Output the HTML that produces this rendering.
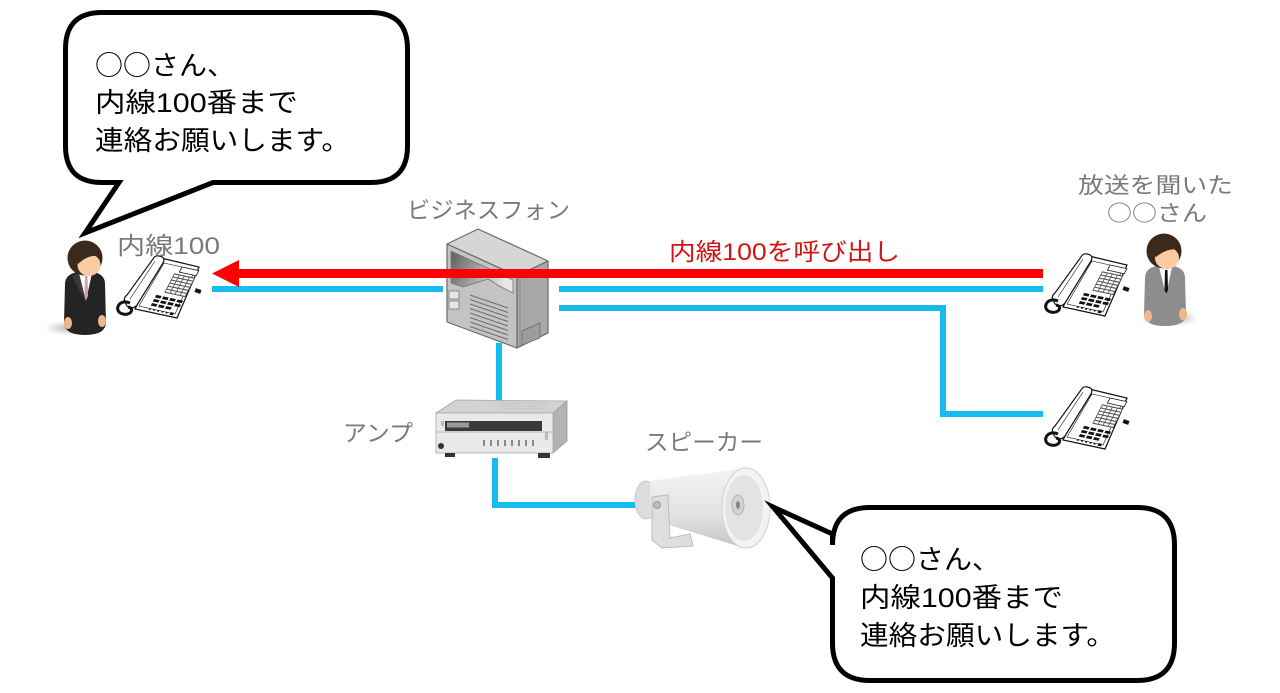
<!DOCTYPE html>
<html><head><meta charset="utf-8"><style>
html,body{margin:0;padding:0;background:#fff;}
svg{display:block;}
text{font-family:"Liberation Sans","Noto Sans CJK JP",sans-serif;}
.cjk{font-family:"Noto Sans CJK JP","Liberation Sans",sans-serif;}
</style></head><body>
<svg width="1280" height="693" viewBox="0 0 1280 693" xmlns="http://www.w3.org/2000/svg">
<defs>
  <linearGradient id="disp" x1="0" y1="0" x2="1" y2="0.3">
    <stop offset="0" stop-color="#5e5e5e"/><stop offset="1" stop-color="#e6e6e6"/>
  </linearGradient>
  <linearGradient id="cone" x1="0" y1="0" x2="0" y2="1">
    <stop offset="0" stop-color="#f4f4f4"/><stop offset="0.6" stop-color="#e2e2e2"/><stop offset="1" stop-color="#c4c4c4"/>
  </linearGradient>
  <radialGradient id="shadow" cx="0.5" cy="0.5" r="0.5">
    <stop offset="0" stop-color="#888" stop-opacity="0.6"/><stop offset="1" stop-color="#bbb" stop-opacity="0"/>
  </radialGradient>
  <g id="phone">
    <path d="M46,3 L84,12 L62,63 L20,54 Z" fill="#fff" stroke="#111" stroke-width="1.2"/>
    <path d="M49,8 L80,15 L60,59 L24,51 Z" fill="none" stroke="#111" stroke-width="0.6"/>
    <g transform="matrix(42,9,26,-51,20,54)">
      <rect x="0.3" y="0.12" width="0.13" height="0.05" fill="#111"/>
      <rect x="0.47" y="0.12" width="0.13" height="0.05" fill="#111"/>
      <rect x="0.64" y="0.12" width="0.13" height="0.05" fill="#111"/>
      <rect x="0.3" y="0.2" width="0.13" height="0.05" fill="#111"/>
      <rect x="0.47" y="0.2" width="0.13" height="0.05" fill="#111"/>
      <rect x="0.64" y="0.2" width="0.13" height="0.05" fill="#111"/>
      <rect x="0.81" y="0.2" width="0.13" height="0.05" fill="#111"/>
      <rect x="0.3" y="0.28" width="0.13" height="0.05" fill="#111"/>
      <rect x="0.47" y="0.28" width="0.13" height="0.05" fill="#111"/>
      <rect x="0.64" y="0.28" width="0.13" height="0.05" fill="#111"/>
      <rect x="0.81" y="0.28" width="0.13" height="0.05" fill="#111"/>
      <rect x="0.3" y="0.04" width="0.04" height="0.03" fill="#111"/>
      <rect x="0.4" y="0.04" width="0.04" height="0.03" fill="#111"/>
      <rect x="0.5" y="0.04" width="0.04" height="0.03" fill="#111"/>
      <rect x="0.6" y="0.04" width="0.04" height="0.03" fill="#111"/>
      <rect x="0.7" y="0.04" width="0.04" height="0.03" fill="#111"/>
      <rect x="0.8" y="0.03" width="0.08" height="0.05" fill="#111"/>
      <rect x="0.45" y="0.4" width="0.5" height="0.38" fill="#555"/>
      <g fill="#fff">
        <rect x="0.47" y="0.42" width="0.1" height="0.04"/><rect x="0.59" y="0.42" width="0.1" height="0.04"/><rect x="0.71" y="0.42" width="0.1" height="0.04"/><rect x="0.83" y="0.42" width="0.1" height="0.04"/>
        <rect x="0.47" y="0.48" width="0.1" height="0.04"/><rect x="0.59" y="0.48" width="0.1" height="0.04"/><rect x="0.71" y="0.48" width="0.1" height="0.04"/><rect x="0.83" y="0.48" width="0.1" height="0.04"/>
        <rect x="0.47" y="0.54" width="0.1" height="0.04"/><rect x="0.59" y="0.54" width="0.1" height="0.04"/><rect x="0.71" y="0.54" width="0.1" height="0.04"/><rect x="0.83" y="0.54" width="0.1" height="0.04"/>
        <rect x="0.47" y="0.6" width="0.1" height="0.04"/><rect x="0.59" y="0.6" width="0.1" height="0.04"/><rect x="0.71" y="0.6" width="0.1" height="0.04"/><rect x="0.83" y="0.6" width="0.1" height="0.04"/>
        <rect x="0.47" y="0.66" width="0.1" height="0.04"/><rect x="0.59" y="0.66" width="0.1" height="0.04"/><rect x="0.71" y="0.66" width="0.1" height="0.04"/><rect x="0.83" y="0.66" width="0.1" height="0.04"/>
        <rect x="0.47" y="0.72" width="0.1" height="0.04"/><rect x="0.59" y="0.72" width="0.1" height="0.04"/><rect x="0.71" y="0.72" width="0.1" height="0.04"/><rect x="0.83" y="0.72" width="0.1" height="0.04"/>
      </g>
      <rect x="0.55" y="0.82" width="0.4" height="0.1" fill="#fff" stroke="#111" stroke-width="0.8" vector-effect="non-scaling-stroke"/>
    </g>
    <path d="M44,1 Q51,2 48,8 L22,50 Q18,55 12,51 L10,47 Q8,43 12,40 L38,4 Q40,0 44,1 Z" fill="#fff" stroke="#111" stroke-width="1.2"/>
    <path d="M40,6 L15,44" stroke="#111" stroke-width="0.6" fill="none"/>
    <path d="M15,48 C3,43 -2,57 8,59 C16,61 20,53 13,52" stroke="#111" stroke-width="3" fill="none"/>
    <rect x="80" y="34" width="6" height="4" fill="#111" transform="rotate(20 83 36)"/>
  </g>
</defs>

<!-- Server (business phone) -->
<g stroke="#6b6b6b" stroke-width="1.2" stroke-linejoin="round">
  <polygon points="447,244 478,229 548,261 517,276" fill="#d6d6d6"/>
  <polygon points="447,244 517,276 517,348 447,322" fill="#c3c3c3"/>
  <polygon points="517,276 548,261 548,333 517,348" fill="#a8a8a8"/>
</g>
<path d="M451,251 L513,280 L513,293 Q500,287 488,279 Q476,283 463,287 L451,283 Z" fill="url(#disp)" stroke="#777" stroke-width="0.8"/>
<rect x="449" y="291" width="10" height="8" fill="#e6e6e6" stroke="#777" stroke-width="0.8"/>
<rect x="449" y="301" width="10" height="8" fill="#e6e6e6" stroke="#777" stroke-width="0.8"/>
<g stroke="#6d6d6d" stroke-width="1">
  <line x1="470" y1="295" x2="508" y2="308"/>
  <line x1="470" y1="299.5" x2="508" y2="312.5"/>
  <line x1="470" y1="304" x2="508" y2="317"/>
  <line x1="470" y1="308.5" x2="508" y2="321.5"/>
  <line x1="470" y1="313" x2="508" y2="326"/>
  <line x1="470" y1="317.5" x2="508" y2="330.5"/>
  <line x1="470" y1="322" x2="508" y2="335"/>
  <line x1="470" y1="326.5" x2="508" y2="339.5"/>
</g>
<polygon points="522,331 540,323 540,338 522,345" fill="#9c9c9c" stroke="#6b6b6b" stroke-width="0.8"/>
<line x1="520" y1="278" x2="520" y2="346" stroke="#8a8a8a" stroke-width="1"/>

<!-- blue lines -->
<g fill="#15bdee">
  <rect x="212" y="286" width="231" height="6"/>
  <rect x="559" y="286" width="484" height="6"/>
  <rect x="559" y="305" width="387" height="6"/>
  <rect x="940" y="305" width="6" height="111"/>
  <rect x="940" y="411" width="103" height="6"/>
  <rect x="496" y="343" width="6" height="58"/>
  <rect x="492" y="458" width="6" height="50"/>
  <rect x="492" y="502" width="145" height="6"/>
</g>

<!-- red arrow -->
<rect x="236" y="269" width="807" height="9" fill="#ff0000"/>
<polygon points="212,273.5 239,260 239,287" fill="#ff0000"/>

<!-- Amp -->
<polygon points="436,413 456,400 567,401 553,413" fill="#d2d2d2" stroke="#a5a5a5" stroke-width="0.8"/>
<g stroke="#b8b8b8" stroke-width="0.6">
  <line x1="500" y1="403" x2="550" y2="403"/><line x1="500" y1="406" x2="548" y2="406"/><line x1="500" y1="409" x2="546" y2="409"/>
</g>
<polygon points="553,413 567,401 567,441 553,453" fill="#b3b3b3" stroke="#999" stroke-width="0.8"/>
<rect x="436" y="413" width="117" height="40" fill="#e9e9e9" stroke="#a8a8a8" stroke-width="0.8"/>
<rect x="445" y="421" width="97" height="10" fill="#3a3a3a"/>
<rect x="447" y="422.5" width="22" height="5" fill="#9a9a9a"/>
<rect x="436" y="431" width="117" height="2" fill="#cfcfcf"/>
<g fill="#888">
  <rect x="483" y="440" width="2" height="6"/><rect x="490" y="440" width="2" height="6"/><rect x="497" y="440" width="2" height="6"/><rect x="504" y="440" width="2" height="6"/><rect x="511" y="440" width="2" height="6"/><rect x="518" y="440" width="2" height="6"/><rect x="525" y="440" width="2" height="6"/><rect x="532" y="440" width="2" height="6"/>
</g>
<circle cx="441" cy="446" r="3" fill="#333"/>
<rect x="441" y="421" width="3" height="5" fill="#bbb"/>
<rect x="545" y="432" width="3" height="8" fill="#bbb"/>
<rect x="445" y="453" width="10" height="4" fill="#333"/>
<rect x="538" y="453" width="12" height="5" fill="#333"/>

<!-- Speaker -->
<ellipse cx="646" cy="500" rx="11" ry="19" fill="#dcdcdc" stroke="#c9c9c9" stroke-width="1"/>
<polygon points="650,481 744,468 744,548 650,519" fill="url(#cone)"/>
<path d="M652,497 L668,495 L670,538 L690,534 L693,546 L662,548 L652,540 Z" fill="#dedede" stroke="#bdbdbd" stroke-width="1"/>
<circle cx="657" cy="505" r="3.5" fill="#bbb" stroke="#888" stroke-width="0.8"/>
<ellipse cx="746" cy="508" rx="24" ry="40" fill="#f3f3f3" stroke="#d0d0d0" stroke-width="1"/>
<ellipse cx="744" cy="508" rx="19" ry="33" fill="#e3e3e3"/>
<ellipse cx="738" cy="505" rx="6" ry="10" fill="#d2d2d2" stroke="#aaa" stroke-width="0.8"/>
<ellipse cx="738" cy="505" rx="2" ry="4" fill="#888"/>

<!-- phones -->
<use href="#phone" transform="translate(115,255)"/>
<use href="#phone" transform="translate(1043,253)"/>
<use href="#phone" transform="translate(1043,386)"/>

<!-- left person -->
<ellipse cx="66" cy="328" rx="22" ry="8" fill="url(#shadow)"/>
<path d="M65,284 Q65,274 78,272 L93,272 Q105,274 105,284 L106,322 Q106,335 85,335 Q64,335 64,322 Z" fill="#242424"/>
<path d="M72,276 L80,273 L86,302 Z" fill="#3a3a3a"/>
<path d="M79,273 L92,273 L86,301 Z" fill="#fff"/>
<path d="M85,276 L87.5,276 L88,296 L86.2,300 L84.5,296 Z" fill="#d99bb0"/>
<ellipse cx="68" cy="323" rx="4" ry="6" fill="#f0b68c"/>
<ellipse cx="102" cy="321" rx="4" ry="6" fill="#f0b68c"/>
<circle cx="85" cy="258" r="17.5" fill="#3b2a1c"/>
<ellipse cx="89" cy="265" rx="11.5" ry="11" fill="#f8cba3"/>
<path d="M74,258 Q82,246 101,252 L101,257 Q90,253 78,264 Z" fill="#3b2a1c"/>

<!-- right person -->
<ellipse cx="1180" cy="318" rx="18" ry="9" fill="url(#shadow)"/>
<path d="M1145,278 Q1145,268 1157,266 L1173,266 Q1185,268 1185,278 L1186,314 Q1186,326 1165,326 Q1144,326 1144,314 Z" fill="#8d8d8d"/>
<path d="M1159,267 L1172,267 L1166,295 Z" fill="#fff"/>
<path d="M1165,270 L1167.5,270 L1168,290 L1166.2,294 L1164.5,290 Z" fill="#111"/>
<ellipse cx="1148" cy="316" rx="4" ry="6" fill="#f0b68c"/>
<ellipse cx="1183" cy="314" rx="4" ry="6" fill="#f0b68c"/>
<circle cx="1164" cy="251" r="17.5" fill="#3b2a1c"/>
<ellipse cx="1167" cy="258" rx="12" ry="11" fill="#f8cba3"/>
<path d="M1151,252 Q1160,239 1180,245 L1180,250 Q1168,247 1156,257 Z" fill="#3b2a1c"/>

<!-- bubbles -->
<path d="M102,12.5 L371,12.5 Q407.5,12.5 407.5,49 L407.5,146 Q407.5,182.5 371,182.5 L213,182.5 L85,233 L119,182.5 L102,182.5 Q65.5,182.5 65.5,146 L65.5,49 Q65.5,12.5 102,12.5 Z" fill="#fff" stroke="#000" stroke-width="5" stroke-linejoin="miter" stroke-miterlimit="20"/>
<path d="M870,507.5 L1137,507.5 Q1174.5,507.5 1174.5,545 L1174.5,643 Q1174.5,680.5 1137,680.5 L870,680.5 Q832.5,680.5 832.5,643 L832.5,578 L773,507 L832.5,534 L832.5,545 Q832.5,507.5 870,507.5 Z" fill="#fff" stroke="#000" stroke-width="5" stroke-linejoin="miter" stroke-miterlimit="20"/>

<!-- bubble text -->
<g font-size="27" fill="#000">
  <text x="95" y="75" textLength="140" lengthAdjust="spacingAndGlyphs"><tspan class="cjk">○○</tspan>さん、</text>
  <text x="95" y="112" textLength="203" lengthAdjust="spacingAndGlyphs">内線100番まで</text>
  <text x="95" y="150" textLength="255" lengthAdjust="spacingAndGlyphs">連絡お願いします。</text>
  <text x="860" y="569" textLength="140" lengthAdjust="spacingAndGlyphs"><tspan class="cjk">○○</tspan>さん、</text>
  <text x="860" y="607" textLength="203" lengthAdjust="spacingAndGlyphs">内線100番まで</text>
  <text x="860" y="645" textLength="255" lengthAdjust="spacingAndGlyphs">連絡お願いします。</text>
</g>

<!-- labels -->
<g fill="#7a7a7a">
  <text x="117" y="254" font-size="24" textLength="103" lengthAdjust="spacingAndGlyphs">内線100</text>
  <text x="407" y="218" font-size="23" textLength="163" lengthAdjust="spacingAndGlyphs">ビジネスフォン</text>
  <text x="1078" y="193" font-size="22" textLength="155" lengthAdjust="spacingAndGlyphs">放送を聞いた</text>
  <text x="1107" y="221" font-size="22" textLength="100" lengthAdjust="spacingAndGlyphs"><tspan class="cjk">○○</tspan>さん</text>
  <text x="343" y="441" font-size="23" textLength="70" lengthAdjust="spacingAndGlyphs">アンプ</text>
  <text x="645" y="450" font-size="23" textLength="118" lengthAdjust="spacingAndGlyphs">スピーカー</text>
</g>
<text x="669" y="260" font-size="24" fill="#d01515" textLength="231" lengthAdjust="spacingAndGlyphs">内線100を呼び出し</text>
</svg>
</body></html>
